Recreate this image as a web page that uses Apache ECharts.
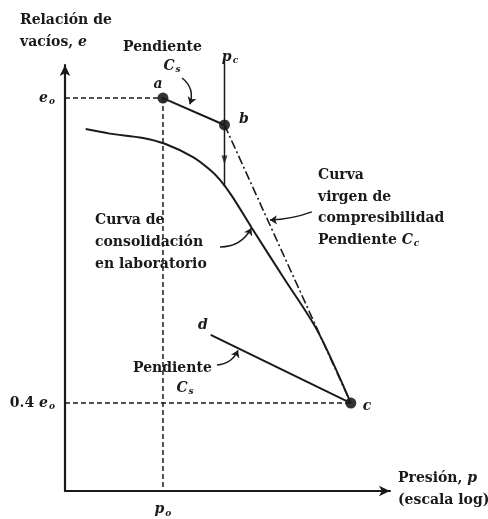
<!DOCTYPE html>
<html>
<head>
<meta charset="utf-8">
<script src="https://cdn.jsdelivr.net/npm/echarts@6/dist/echarts.min.js"></script>
<style>
  html, body { margin: 0; padding: 0; background: #fff; }
  #chart { width: 488px; height: 519px; }
</style>
</head>
<body>
<div id="chart"></div>
<script>
// Curva de compresibilidad e – log p (esquema de Schmertmann)
// Presión en escala logarítmica (unidades relativas, p_o = 1)
const pressureRange = [0.13, 113];
const voidRange = [0.227, 1.065];

// Puntos característicos [p, e]
const pointA = [1, 1.0];        // (p_o, e_o)
const pointB = [3.6, 0.947];    // (p_c, e en p_c)
const pointC = [50, 0.4];       // (p, 0.4 e_o)
const pointD = [2.7, 0.534];    // inicio de la rama de descarga

// Curva de consolidación en laboratorio
const labPressure = [0.2, 0.33, 0.66, 1.04, 1.87, 2.66, 3.28, 4.21, 6.38, 12.2, 24.7, 50];
const labVoid     = [0.939, 0.930, 0.9215, 0.910, 0.884, 0.859, 0.839, 0.807, 0.744, 0.648, 0.544, 0.4];

// Línea vertical de p_c
const pcLineVoid = [1.075, 0.826];
const pcArrowVoid = 0.878;

// Marcas del eje
const yTickValues = [0.4, 1.0];
const yTickLabels = ['{n|0.4 }{e|e}{sub|o}', '{e|e}{sub|o}'];
const xTickValues = [1];
const xTickLabels = ['{e|p}{sub|o}'];

// Flechas de las anotaciones [desde, hasta]
const arrowCsTop  = [[1.49, 1.0395], [1.75, 0.988]];
const arrowVirgin = [[22.2, 0.776], [9.28, 0.760]];
const arrowLab    = [[3.28, 0.707], [6.3, 0.744]];
const arrowCsLow  = [[3.08, 0.475], [4.77, 0.504]];

const FONT = '"DejaVu Serif", "Liberation Serif", serif';
const INK = '#1a1a1a';
const richText = {
  n:   { fontFamily: FONT, fontSize: 14, fontWeight: 'bold', color: INK },
  e:   { fontFamily: FONT, fontSize: 14, fontWeight: 'bold', fontStyle: 'italic', color: INK },
  sub: { fontFamily: FONT, fontSize: 9, fontWeight: 'bold', fontStyle: 'italic', color: INK, padding: [8, 0, 0, 1] }
};

const chart = echarts.init(document.getElementById('chart'), null, { renderer: 'canvas' });

function text(str, x, y, align) {
  return {
    type: 'text',
    x: x, y: y,
    style: {
      text: str,
      fontFamily: FONT,
      fontSize: 14,
      fontWeight: 'bold',
      fill: INK,
      textAlign: align || 'left',
      textVerticalAlign: 'middle',
      align: align || 'left',
      verticalAlign: 'middle',
      rich: {
        n:   { fontFamily: FONT, fontSize: 14, fontWeight: 'bold', fill: INK },
        i:   { fontFamily: FONT, fontSize: 14, fontWeight: 'bold', fontStyle: 'italic', fill: INK },
        sub: { fontFamily: FONT, fontSize: 9, fontWeight: 'bold', fontStyle: 'italic', fill: INK, padding: [8, 0, 0, 1] }
      }
    }
  };
}

function arrowLine(pair, curveness) {
  return { coords: pair, lineStyle: { curveness: curveness } };
}

const option = {
  backgroundColor: '#ffffff',
  animation: false,
  grid: { left: 65, right: 98, top: 65, bottom: 28, containLabel: false },
  xAxis: {
    type: 'log',
    logBase: 10,
    min: pressureRange[0],
    max: pressureRange[1],
    axisLine: {
      show: true, onZero: false,
      symbol: ['none', 'arrow'], symbolSize: [8, 11], symbolOffset: [0, 0],
      lineStyle: { color: INK, width: 2.2 }
    },
    axisTick: { show: false },
    splitLine: { show: false },
    minorTick: { show: false },
    axisLabel: {
      show: true,
      customValues: xTickValues,
      margin: 10,
      formatter: function (v) {
        const idx = xTickValues.findIndex(t => Math.abs(t - v) < 1e-6);
        return idx >= 0 ? xTickLabels[idx] : '';
      },
      rich: richText
    }
  },
  yAxis: {
    type: 'value',
    min: voidRange[0],
    max: voidRange[1],
    axisLine: {
      show: true, onZero: false,
      symbol: ['none', 'arrow'], symbolSize: [8, 11], symbolOffset: [0, 0],
      lineStyle: { color: INK, width: 2.2 }
    },
    axisTick: { show: false },
    splitLine: { show: false },
    axisLabel: {
      show: true,
      customValues: yTickValues,
      margin: 10,
      formatter: function (v) {
        const idx = yTickValues.findIndex(t => Math.abs(t - v) < 1e-6);
        return idx >= 0 ? yTickLabels[idx] : '';
      },
      rich: richText
    }
  },
  series: [
    {
      name: 'guías',
      type: 'line',
      symbol: 'none',
      lineStyle: { color: INK, width: 1.5, type: [5, 3] },
      data: [[pressureRange[0], pointA[1]], pointA, null,
             [pressureRange[0], pointC[1]], pointC, null,
             pointA, [pointA[0], voidRange[0]]],
      connectNulls: false,
      silent: true
    },
    {
      name: 'p_c',
      type: 'line',
      symbol: 'none',
      clip: false,
      lineStyle: { color: INK, width: 1.5 },
      data: [[pointB[0], pcLineVoid[0]], [pointB[0], pcLineVoid[1]]],
      silent: true
    },
    {
      name: 'flecha p_c',
      type: 'scatter',
      symbol: 'triangle',
      symbolRotate: 180,
      symbolSize: [6, 9],
      itemStyle: { color: INK },
      data: [[pointB[0], pcArrowVoid]],
      silent: true
    },
    {
      name: 'recompresión',
      type: 'line',
      symbol: 'none',
      lineStyle: { color: INK, width: 2 },
      data: [pointA, pointB],
      silent: true
    },
    {
      name: 'curva virgen',
      type: 'line',
      symbol: 'none',
      lineStyle: { color: INK, width: 1.6, type: [9, 3, 2, 3] },
      data: [pointB, pointC],
      silent: true
    },
    {
      name: 'laboratorio',
      type: 'line',
      symbol: 'none',
      smooth: 0.3,
      lineStyle: { color: INK, width: 2 },
      data: labPressure.map((p, i) => [p, labVoid[i]]),
      silent: true
    },
    {
      name: 'descarga',
      type: 'line',
      symbol: 'none',
      lineStyle: { color: INK, width: 2 },
      data: [pointD, pointC],
      silent: true
    },
    {
      name: 'flechas',
      type: 'lines',
      coordinateSystem: 'cartesian2d',
      symbol: ['none', 'arrow'],
      symbolSize: 7,
      silent: true,
      lineStyle: { color: INK, width: 1.5, opacity: 1 },
      data: [
        arrowLine(arrowCsTop, 0.35),
        arrowLine(arrowVirgin, 0.08),
        arrowLine(arrowLab, -0.3),
        arrowLine(arrowCsLow, -0.3)
      ]
    },
    {
      name: 'puntos',
      type: 'scatter',
      symbol: 'circle',
      symbolSize: 11,
      itemStyle: { color: '#000' },
      data: [pointA, pointB, pointC],
      silent: true
    }
  ],
  graphic: [
    text('Relación de', 20, 20),
    text('{n|vacíos, }{i|e}', 20, 42),
    text('Pendiente', 123, 47),
    text('{i|C}{sub|s}', 172, 66, 'center'),
    text('{i|a}', 158, 84, 'center'),
    text('{i|b}', 244, 119, 'center'),
    text('{i|p}{sub|c}', 230, 57, 'center'),
    text('Curva', 318, 175),
    text('virgen de', 318, 197),
    text('compresibilidad', 318, 218),
    text('{n|Pendiente }{i|C}{sub|c}', 318, 240),
    text('Curva de', 95, 220),
    text('consolidación', 95, 242),
    text('en laboratorio', 95, 264),
    text('{i|d}', 203, 325, 'center'),
    text('Pendiente', 133, 368),
    text('{i|C}{sub|s}', 185, 388, 'center'),
    text('{i|c}', 367, 406, 'center'),
    text('{n|Presión, }{i|p}', 398, 478),
    text('(escala log)', 398, 500)
  ]
};

chart.setOption(option);
</script>
</body>
</html>
